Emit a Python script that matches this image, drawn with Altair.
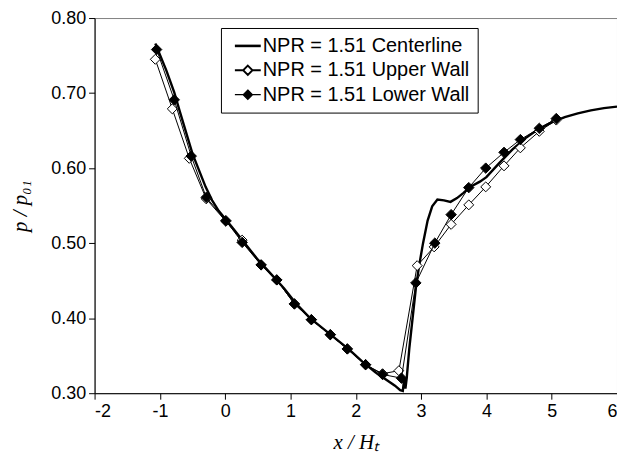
import altair as alt
import pandas as pd

series_names = ["NPR = 1.51 Centerline", "NPR = 1.51 Upper Wall", "NPR = 1.51 Lower Wall"]

center_x = [-1.07, -0.9, -0.78, -0.7, -0.5, -0.4, -0.3, -0.2, -0.1, 0.1, 0.3, 0.5, 0.7, 0.9, 1.1,
            1.3, 1.5, 1.7, 1.9, 2.1, 2.3, 2.5, 2.6, 2.68, 2.72, 2.74, 2.76, 2.78, 2.82, 2.87, 2.92,
            2.97, 3.03, 3.1, 3.17, 3.25, 3.35, 3.45, 3.55, 3.65, 3.75, 3.9, 4.0, 4.2, 4.4, 4.6,
            4.8, 5.0, 5.2, 5.4, 5.6, 5.8, 6.0]
center_y = [0.766, 0.730, 0.701, 0.677, 0.619, 0.597, 0.575, 0.557, 0.543, 0.522, 0.500, 0.478,
            0.459, 0.440, 0.418, 0.400, 0.386, 0.372, 0.358, 0.342, 0.328, 0.316, 0.310, 0.304,
            0.303, 0.318, 0.306, 0.320, 0.360, 0.400, 0.440, 0.470, 0.500, 0.530, 0.549, 0.558,
            0.557, 0.555, 0.560, 0.567, 0.575, 0.582, 0.588, 0.607, 0.625, 0.640, 0.652, 0.661,
            0.668, 0.673, 0.677, 0.680, 0.682]

upper_x = [-1.07, -0.81, -0.55, -0.29, 0.01, 0.26, 0.55, 0.79, 1.06, 1.32, 1.61, 1.87, 2.15,
           2.41, 2.66, 2.94, 3.20, 3.46, 3.73, 3.99, 4.27, 4.52, 4.81, 5.07]
upper_y = [0.745, 0.679, 0.613, 0.559, 0.529, 0.504, 0.471, 0.451, 0.419, 0.398, 0.378, 0.359,
           0.338, 0.326, 0.330, 0.470, 0.495, 0.525, 0.551, 0.575, 0.603, 0.627, 0.649, 0.664]

lower_x = [-1.05, -0.78, -0.52, -0.29, 0.01, 0.26, 0.55, 0.79, 1.06, 1.32, 1.61, 1.87, 2.15,
           2.41, 2.70, 2.92, 3.21, 3.46, 3.73, 3.99, 4.27, 4.52, 4.81, 5.07]
lower_y = [0.758, 0.691, 0.616, 0.561, 0.530, 0.501, 0.471, 0.451, 0.419, 0.398, 0.378, 0.359,
           0.338, 0.325, 0.320, 0.447, 0.500, 0.538, 0.574, 0.600, 0.621, 0.638, 0.653, 0.666]

x_ticks = [-2, -1, 0, 1, 2, 3, 4, 5, 6]
y_ticks = [0.30, 0.40, 0.50, 0.60, 0.70, 0.80]

center = pd.DataFrame({"x": center_x, "y": center_y, "series": series_names[0]})
upper = pd.DataFrame({"x": upper_x, "y": upper_y, "series": series_names[1]})
lower = pd.DataFrame({"x": lower_x, "y": lower_y, "series": series_names[2]})
alldata = pd.concat([center, upper, lower], ignore_index=True)

xs = alt.Scale(domain=[-2, 6], nice=False, zero=False)
ys = alt.Scale(domain=[0.30, 0.80], nice=False, zero=False)

x_enc = alt.X("x:Q", scale=xs, axis=alt.Axis(
    values=x_ticks, labelExpr="'' + datum.value", title="x / Hₜ",
    grid=False, tickSize=6, labelPadding=3, titlePadding=12,
    labelFont="Liberation Sans", labelFontSize=18, labelColor="black",
    titleFont="Liberation Serif", titleFontStyle="italic", titleFontSize=21,
    titleFontWeight="normal", titleColor="black",
    domainColor="black", tickColor="black"))
y_enc = alt.Y("y:Q", scale=ys, axis=alt.Axis(
    values=y_ticks, format=".2f", title="p / p₀₁",
    grid=False, tickSize=6, labelPadding=3, titlePadding=20,
    labelFont="Liberation Sans", labelFontSize=18, labelColor="black",
    titleFont="Liberation Serif", titleFontStyle="italic", titleFontSize=21,
    titleFontWeight="normal", titleColor="black",
    domainColor="black", tickColor="black"))

line_path = "M-1.6,0H1.6"
diamond_path = "M-1.6,0H-0.58M0,-0.58L0.58,0L0,0.58L-0.58,0ZM0.58,0H1.6"
leg = alt.Legend(title=None, orient="none", legendX=127, legendY=10,
                 strokeColor="black", fillColor="white", padding=8,
                 labelFont="Liberation Sans", labelFontSize=20, labelColor="black",
                 labelLimit=400, symbolSize=264, rowPadding=4.5, labelOffset=5,
                 symbolOffset=9, symbolOpacity=1, cornerRadius=0)

legend_layer = alt.Chart(alldata).mark_point(opacity=0).encode(
    x=x_enc, y=y_enc,
    shape=alt.Shape("series:N", scale=alt.Scale(domain=series_names,
                    range=[line_path, diamond_path, diamond_path]), legend=leg),
    fill=alt.Fill("series:N", scale=alt.Scale(domain=series_names,
                  range=["white", "white", "black"]), legend=leg),
    stroke=alt.Stroke("series:N", scale=alt.Scale(domain=series_names,
                      range=["black", "black", "black"]), legend=leg),
    strokeWidth=alt.StrokeWidth("series:N", scale=alt.Scale(domain=series_names,
                                range=[2.6, 1.2, 1.2]), legend=leg),
)

center_line = alt.Chart(center).mark_line(color="black", strokeWidth=2.4).encode(
    x=alt.X("x:Q", scale=xs), y=alt.Y("y:Q", scale=ys), order="x:Q")
upper_line = alt.Chart(upper).mark_line(color="black", strokeWidth=1).encode(
    x=alt.X("x:Q", scale=xs), y=alt.Y("y:Q", scale=ys))
upper_pts = alt.Chart(upper).mark_point(shape="diamond", filled=True, fill="white",
                                         stroke="black", strokeWidth=1, size=100, opacity=1).encode(
    x=alt.X("x:Q", scale=xs), y=alt.Y("y:Q", scale=ys))
lower_line = alt.Chart(lower).mark_line(color="black", strokeWidth=1).encode(
    x=alt.X("x:Q", scale=xs), y=alt.Y("y:Q", scale=ys))
lower_pts = alt.Chart(lower).mark_point(shape="diamond", filled=True, fill="black",
                                         stroke="black", strokeWidth=1, size=110, opacity=1).encode(
    x=alt.X("x:Q", scale=xs), y=alt.Y("y:Q", scale=ys))

chart = alt.layer(legend_layer, center_line, upper_line, upper_pts, lower_line, lower_pts).properties(
    width=525, height=377,
    autosize=alt.AutoSizeParams(type="none"),
    padding={"left": 87, "top": 9, "right": 0, "bottom": 60},
    background="white",
).configure_view(stroke="#808080", strokeWidth=1)

chart.save("out.html", embed_options={"renderer": "svg", "actions": False})
